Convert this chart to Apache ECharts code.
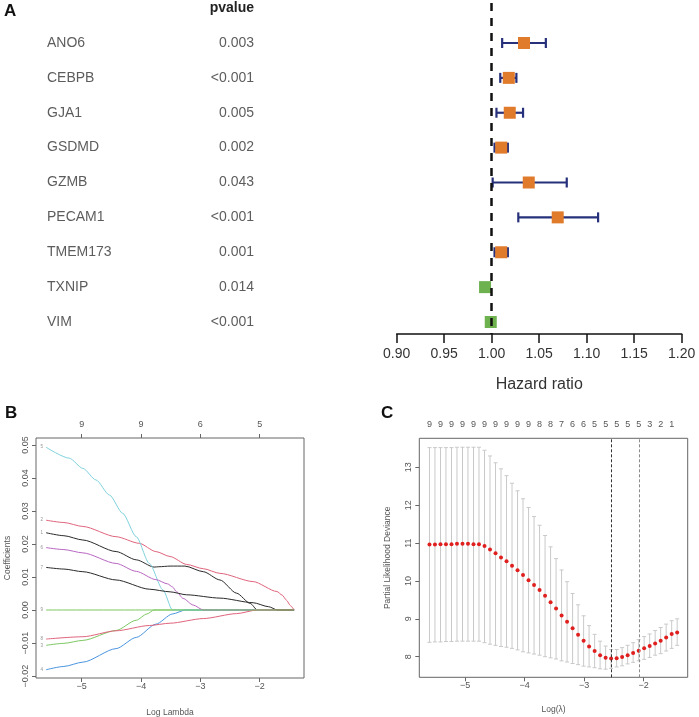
<!DOCTYPE html>
<html>
<head>
<meta charset="utf-8">
<script src="https://cdn.jsdelivr.net/npm/echarts@6/dist/echarts.min.js"></script>
<style>
  html, body { margin: 0; padding: 0; background: #fff; }
  #main { width: 699px; height: 717px; }
</style>
</head>
<body>
<div id="main"></div>
<script>
// ---- panel A: univariate cox forest ----
var genes = ['ANO6', 'CEBPB', 'GJA1', 'GSDMD', 'GZMB', 'PECAM1', 'TMEM173', 'TXNIP', 'VIM'];
var pvalues = ['0.003', '<0.001', '0.005', '0.002', '0.043', '<0.001', '0.001', '0.014', '<0.001'];
var hr     = [1.034, 1.018, 1.019, 1.010, 1.039, 1.0695, 1.010, 0.993, 0.999];
var hrLow  = [1.011, 1.009, 1.005, 1.003, 1.001, 1.028, 1.003, 0.990, 0.997];
var hrHigh = [1.057, 1.026, 1.033, 1.017, 1.079, 1.112, 1.017, 0.996, 1.001];

// ---- panel B: lasso coefficient paths (log lambda, coefficient) ----
var coef1 = [[-5.6, 0.0234], [-5.3, 0.0225], [-4.98, 0.0212], [-4.42, 0.0177], [-4.08, 0.0152], [-3.78, 0.0130], [-3.7, 0.0131], [-3.51, 0.0133], [-3.26, 0.0133], [-2.95, 0.0116], [-2.67, 0.0091], [-2.39, 0.0051], [-2.16, 0.0020], [-2.04, 0], [-1.42, 0]];
var coef2 = [[-5.6, 0.0272], [-5.3, 0.0265], [-4.98, 0.0253], [-4.42, 0.0222], [-4.03, 0.0202], [-3.75, 0.0177], [-3.51, 0.0162], [-3.23, 0.0138], [-2.95, 0.0125], [-2.67, 0.0111], [-2.11, 0.0086], [-1.71, 0.0056], [-1.62, 0.0045], [-1.55, 0.0030], [-1.48, 0.0013], [-1.42, 0]];
var coef3 = [[-5.6, -0.0107], [-5.3, -0.0101], [-4.98, -0.0092], [-4.42, -0.0062], [-4.08, -0.0031], [-3.9, -0.0012], [-3.78, 0], [-1.42, 0]];
var coef4 = [[-5.6, -0.0181], [-5.3, -0.0171], [-4.98, -0.0158], [-4.42, -0.0117], [-4.08, -0.0083], [-3.75, -0.0043], [-3.47, -0.0012], [-3.25, 0], [-1.42, 0]];
var coef5 = [[-5.6, 0.0493], [-5.21, 0.0460], [-4.98, 0.0429], [-4.76, 0.0394], [-4.53, 0.0348], [-4.31, 0.0293], [-4.08, 0.0222], [-3.86, 0.0141], [-3.63, 0.0061], [-3.47, 0], [-1.42, 0]];
var coef6 = [[-5.6, 0.0189], [-5.3, 0.0183], [-4.98, 0.0173], [-4.42, 0.0141], [-4.08, 0.0117], [-3.75, 0.0092], [-3.55, 0.0079], [-3.47, 0.0070], [-3.40, 0.0055], [-3.29, 0.0035], [-3.12, 0.0015], [-2.95, 0], [-1.42, 0]];
var coef7 = [[-5.6, 0.0129], [-5.3, 0.0124], [-4.98, 0.0116], [-4.42, 0.0091], [-3.86, 0.0063], [-3.51, 0.0055], [-3.23, 0.0046], [-2.67, 0.0036], [-2.11, 0.0022], [-1.85, 0.0010], [-1.70, 0], [-1.42, 0]];
var coef8 = [[-5.6, -0.0088], [-4.98, -0.0081], [-4.42, -0.0063], [-3.86, -0.0047], [-3.51, -0.0040], [-2.95, -0.0026], [-2.39, -0.0011], [-2.04, 0], [-1.42, 0]];
var coef9 = [[-5.6, 0], [-1.42, 0]];
var bTopTicks = [-5, -4, -3, -2];
var bTopNz = ['9', '9', '6', '5'];

// ---- panel C: cross-validation curve ----
var cvLambda = [-5.599, -5.507, -5.414, -5.322, -5.229, -5.137, -5.044, -4.952, -4.859, -4.767,
  -4.674, -4.582, -4.489, -4.397, -4.304, -4.212, -4.119, -4.027, -3.934, -3.842,
  -3.749, -3.657, -3.564, -3.472, -3.379, -3.287, -3.194, -3.102, -3.009, -2.917,
  -2.824, -2.732, -2.639, -2.547, -2.454, -2.362, -2.269, -2.177, -2.084, -1.992,
  -1.899, -1.807, -1.714, -1.622, -1.529, -1.437];
var cvMean = [10.96, 10.96, 10.97, 10.97, 10.97, 10.98, 10.98, 10.98, 10.97, 10.97,
  10.92, 10.83, 10.73, 10.62, 10.52, 10.40, 10.28, 10.16, 10.02, 9.89,
  9.76, 9.61, 9.44, 9.27, 9.09, 8.92, 8.75, 8.58, 8.42, 8.27,
  8.15, 8.04, 7.97, 7.95, 7.96, 7.99, 8.04, 8.10, 8.16, 8.22,
  8.28, 8.35, 8.42, 8.51, 8.60, 8.64];
var cvUpper = [13.52, 13.52, 13.52, 13.52, 13.52, 13.53, 13.53, 13.53, 13.53, 13.53,
  13.45, 13.30, 13.12, 12.96, 12.78, 12.58, 12.38, 12.17, 11.94, 11.70,
  11.47, 11.20, 10.90, 10.59, 10.29, 9.98, 9.67, 9.37, 9.08, 8.82,
  8.59, 8.41, 8.28, 8.19, 8.19, 8.24, 8.30, 8.37, 8.45, 8.53,
  8.60, 8.69, 8.77, 8.86, 8.95, 9.00];
var cvLower = [8.38, 8.39, 8.39, 8.40, 8.40, 8.41, 8.41, 8.41, 8.41, 8.41,
  8.37, 8.33, 8.30, 8.27, 8.25, 8.22, 8.18, 8.13, 8.10, 8.07,
  8.04, 8.00, 7.97, 7.94, 7.89, 7.86, 7.82, 7.79, 7.75, 7.73,
  7.71, 7.68, 7.67, 7.69, 7.73, 7.76, 7.81, 7.85, 7.89, 7.93,
  7.98, 8.04, 8.08, 8.15, 8.22, 8.30];
var cvNz = [9, 9, 9, 9, 9, 9, 9, 9, 9, 9, 9, 9, 9, 9, 9, 9, 9, 9, 9, 9,
  8, 8, 8, 8, 7, 7, 6, 6, 6, 6, 5, 5, 5, 5, 5, 5, 5, 5, 5, 5, 3, 3, 2, 2, 1, 1];
var lambdaMin = -2.547;
var lambda1se = -2.084;

var FONT = 'Liberation Sans, Arial, Helvetica, sans-serif';
var ORANGE = '#e07b2c';
var GREEN = '#6db24f';
var NAVY = '#27307a';
var pathCols = ['#2a2a2a', '#e0647c', '#7cc862', '#4a95e0', '#7fd2dc', '#b866c2'];

function minus(s) { return String(s).replace('-', '\u2212'); }

var rowMin = -1.147, rowMax = 8.344;

var chart = echarts.init(document.getElementById('main'));

var bCurves = [coef1, coef2, coef3, coef4, coef5, coef6, coef7, coef8, coef9];
var bSeries = bCurves.map(function (c, i) {
  return {
    type: 'line', xAxisIndex: 2, yAxisIndex: 2, data: c,
    showSymbol: false, smooth: 0.25, smoothMonotone: 'x',
    lineStyle: { color: pathCols[i % 6], width: 1 }, silent: true, z: 2 + i
  };
});
bSeries.push({
  type: 'scatter', xAxisIndex: 2, yAxisIndex: 2, symbolSize: 0, silent: true,
  data: bCurves.map(function (c, i) { return { value: c[0], name: String(i + 1) }; }),
  label: { show: true, position: 'left', distance: 3, formatter: '{b}', fontSize: 4.5, color: '#777', fontFamily: FONT }
});

var option = {
  backgroundColor: '#fff',
  animation: false,
  textStyle: { fontFamily: FONT },
  grid: [
    { left: 47, right: 445, top: 3, bottom: 383, outerBoundsMode: 'none', containLabel: false },
    { left: 396.7, right: 17.3, top: 3, bottom: 383, outerBoundsMode: 'none', containLabel: false },
    { left: 36, right: 395, top: 438, bottom: 39, show: true, borderColor: '#666', borderWidth: 1, outerBoundsMode: 'none', containLabel: false },
    { left: 419.3, right: 11.3, top: 438.3, bottom: 39.7, show: true, borderColor: '#666', borderWidth: 1, outerBoundsMode: 'none', containLabel: false }
  ],
  xAxis: [
    { gridIndex: 0, type: 'value', min: 0, max: 1, show: false },
    {
      gridIndex: 1, type: 'value', min: 0.9, max: 1.2, interval: 0.05,
      axisLine: { onZero: false, lineStyle: { color: '#111', width: 1.5 } },
      axisTick: { length: 9, lineStyle: { color: '#111', width: 1.5 } },
      axisLabel: { fontSize: 14, color: '#333', margin: 13, formatter: function (v) { return v.toFixed(2); } },
      splitLine: { show: false },
      name: 'Hazard ratio', nameLocation: 'middle', nameGap: 43,
      nameTextStyle: { fontSize: 16, color: '#333' }
    },
    {
      gridIndex: 2, type: 'value', min: -5.77, max: -1.253,
      axisLine: { show: false, onZero: false },
      axisTick: { customValues: [-5, -4, -3, -2], length: 4, lineStyle: { color: '#666' } },
      axisLabel: { customValues: [-5, -4, -3, -2], fontSize: 9, color: '#555', margin: 4, formatter: minus },
      splitLine: { show: false },
      name: 'Log Lambda', nameLocation: 'middle', nameGap: 30,
      nameTextStyle: { fontSize: 8.5, color: '#555' }
    },
    {
      gridIndex: 2, type: 'value', position: 'top', min: -5.77, max: -1.253,
      axisLine: { show: false, onZero: false },
      axisTick: { customValues: bTopTicks, length: 4, lineStyle: { color: '#666' } },
      axisLabel: { customValues: bTopTicks, fontSize: 9, color: '#555', margin: 9,
        formatter: function (v) { return bTopNz[bTopTicks.indexOf(v)]; } },
      splitLine: { show: false }
    },
    {
      gridIndex: 3, type: 'value', min: -5.77, max: -1.26,
      axisLine: { show: false, onZero: false },
      axisTick: { customValues: [-5, -4, -3, -2], length: 4, lineStyle: { color: '#666' } },
      axisLabel: { customValues: [-5, -4, -3, -2], fontSize: 9, color: '#555', margin: 4, formatter: minus },
      splitLine: { show: false },
      name: 'Log(\u03bb)', nameLocation: 'middle', nameGap: 28,
      nameTextStyle: { fontSize: 8.5, color: '#555' }
    },
    {
      gridIndex: 3, type: 'value', position: 'top', min: -5.77, max: -1.26,
      axisLine: { show: false, onZero: false }, axisTick: { show: false },
      axisLabel: {
        customValues: cvLambda.filter(function (v, i) { return i % 2 === 0; }),
        fontSize: 9, color: '#555', margin: 9,
        formatter: function (v) { return String(cvNz[cvLambda.indexOf(v)]); }
      },
      splitLine: { show: false }
    }
  ],
  yAxis: [
    { gridIndex: 0, type: 'value', inverse: true, min: rowMin, max: rowMax, show: false },
    { gridIndex: 1, type: 'value', inverse: true, min: rowMin, max: rowMax, show: false },
    {
      gridIndex: 2, type: 'value', min: -0.0206, max: 0.0521,
      axisLine: { show: false, onZero: false },
      axisTick: { customValues: [-0.02, -0.01, 0, 0.01, 0.02, 0.03, 0.04, 0.05], length: 4, lineStyle: { color: '#666' } },
      axisLabel: { customValues: [-0.02, -0.01, 0, 0.01, 0.02, 0.03, 0.04, 0.05], rotate: 90, fontSize: 9, color: '#555', margin: 6,
        formatter: function (v) { return minus(v.toFixed(2)); } },
      splitLine: { show: false },
      name: 'Coefficients', nameLocation: 'middle', nameGap: 24,
      nameTextStyle: { fontSize: 8.5, color: '#555' }
    },
    {
      gridIndex: 3, type: 'value', min: 7.456, max: 13.766,
      axisLine: { show: false, onZero: false },
      axisTick: { customValues: [8, 9, 10, 11, 12, 13], length: 4, lineStyle: { color: '#666' } },
      axisLabel: { customValues: [8, 9, 10, 11, 12, 13], rotate: 90, fontSize: 9, color: '#555', margin: 6 },
      splitLine: { show: false },
      name: 'Partial Likelihood Deviance', nameLocation: 'middle', nameGap: 27,
      nameTextStyle: { fontSize: 8.5, color: '#555' }
    }
  ],
  graphic: [
    { type: 'text', x: 4, y: 3, style: { text: 'A', font: 'bold 17px ' + FONT, fill: '#111' } },
    { type: 'text', x: 5, y: 405, style: { text: 'B', font: 'bold 17px ' + FONT, fill: '#111' } },
    { type: 'text', x: 381, y: 405, style: { text: 'C', font: 'bold 17px ' + FONT, fill: '#111' } },
    { type: 'text', x: 254, y: 8, style: { text: 'pvalue', font: 'bold 14px ' + FONT, fill: '#222', align: 'right', verticalAlign: 'middle' } }
  ],
  series: [
    {
      type: 'scatter', xAxisIndex: 0, yAxisIndex: 0, symbolSize: 0, silent: true,
      data: genes.map(function (g, i) { return { value: [0, i], name: g }; }),
      label: { show: true, position: 'right', distance: 0, formatter: '{b}', fontSize: 14, color: '#333', fontFamily: FONT }
    },
    {
      type: 'scatter', xAxisIndex: 0, yAxisIndex: 0, symbolSize: 0, silent: true,
      data: pvalues.map(function (p, i) { return { value: [1, i], name: p }; }),
      label: { show: true, position: 'left', distance: 0, formatter: '{b}', fontSize: 14, color: '#333', fontFamily: FONT }
    },
    {
      type: 'custom', xAxisIndex: 1, yAxisIndex: 1, silent: true, z: 3,
      data: genes.map(function (g, i) { return [hrLow[i], hrHigh[i], i]; }),
      encode: { x: [0, 1], y: 2 },
      renderItem: function (params, api) {
        var row = api.value(2);
        var a = api.coord([api.value(0), row]);
        var b = api.coord([api.value(1), row]);
        var h = 5;
        var st = { stroke: NAVY, lineWidth: 2.2 };
        return { type: 'group', children: [
          { type: 'line', shape: { x1: a[0], y1: a[1], x2: b[0], y2: b[1] }, style: st },
          { type: 'line', shape: { x1: a[0], y1: a[1] - h, x2: a[0], y2: a[1] + h }, style: st },
          { type: 'line', shape: { x1: b[0], y1: b[1] - h, x2: b[0], y2: b[1] + h }, style: st }
        ] };
      }
    },
    {
      type: 'scatter', xAxisIndex: 1, yAxisIndex: 1, symbol: 'rect', symbolSize: 12, silent: true, z: 4,
      data: hr.map(function (v, i) { return { value: [v, i], itemStyle: { color: v >= 1 ? ORANGE : GREEN, opacity: 1 } }; }),
      markLine: {
        silent: true, symbol: 'none', label: { show: false },
        lineStyle: { color: '#111', width: 2.5, type: [8, 7] },
        data: [{ xAxis: 1 }]
      }
    }
  ].concat(bSeries).concat([
    {
      type: 'custom', xAxisIndex: 4, yAxisIndex: 3, silent: true, z: 2,
      data: cvLambda.map(function (x, i) { return [x, cvLower[i], cvUpper[i]]; }),
      encode: { x: 0, y: [1, 2] },
      renderItem: function (params, api) {
        var lo = api.coord([api.value(0), api.value(1)]);
        var hi = api.coord([api.value(0), api.value(2)]);
        var w = 2;
        var st = { stroke: '#c9c9c9', lineWidth: 1 };
        return { type: 'group', children: [
          { type: 'line', shape: { x1: lo[0], y1: lo[1], x2: hi[0], y2: hi[1] }, style: st },
          { type: 'line', shape: { x1: lo[0] - w, y1: lo[1], x2: lo[0] + w, y2: lo[1] }, style: st },
          { type: 'line', shape: { x1: hi[0] - w, y1: hi[1], x2: hi[0] + w, y2: hi[1] }, style: st }
        ] };
      }
    },
    {
      type: 'scatter', xAxisIndex: 4, yAxisIndex: 3, symbolSize: 4, silent: true, z: 4,
      itemStyle: { color: '#e01f1f', opacity: 1 },
      data: cvLambda.map(function (x, i) { return [x, cvMean[i]]; }),
      markLine: {
        silent: true, symbol: 'none', label: { show: false },
        data: [
          { xAxis: lambdaMin, lineStyle: { color: '#333', width: 1, type: [3, 2] } },
          { xAxis: lambda1se, lineStyle: { color: '#8a8a8a', width: 1, type: [3, 2] } }
        ]
      }
    }
  ])
};

chart.setOption(option);
</script>
</body>
</html>
